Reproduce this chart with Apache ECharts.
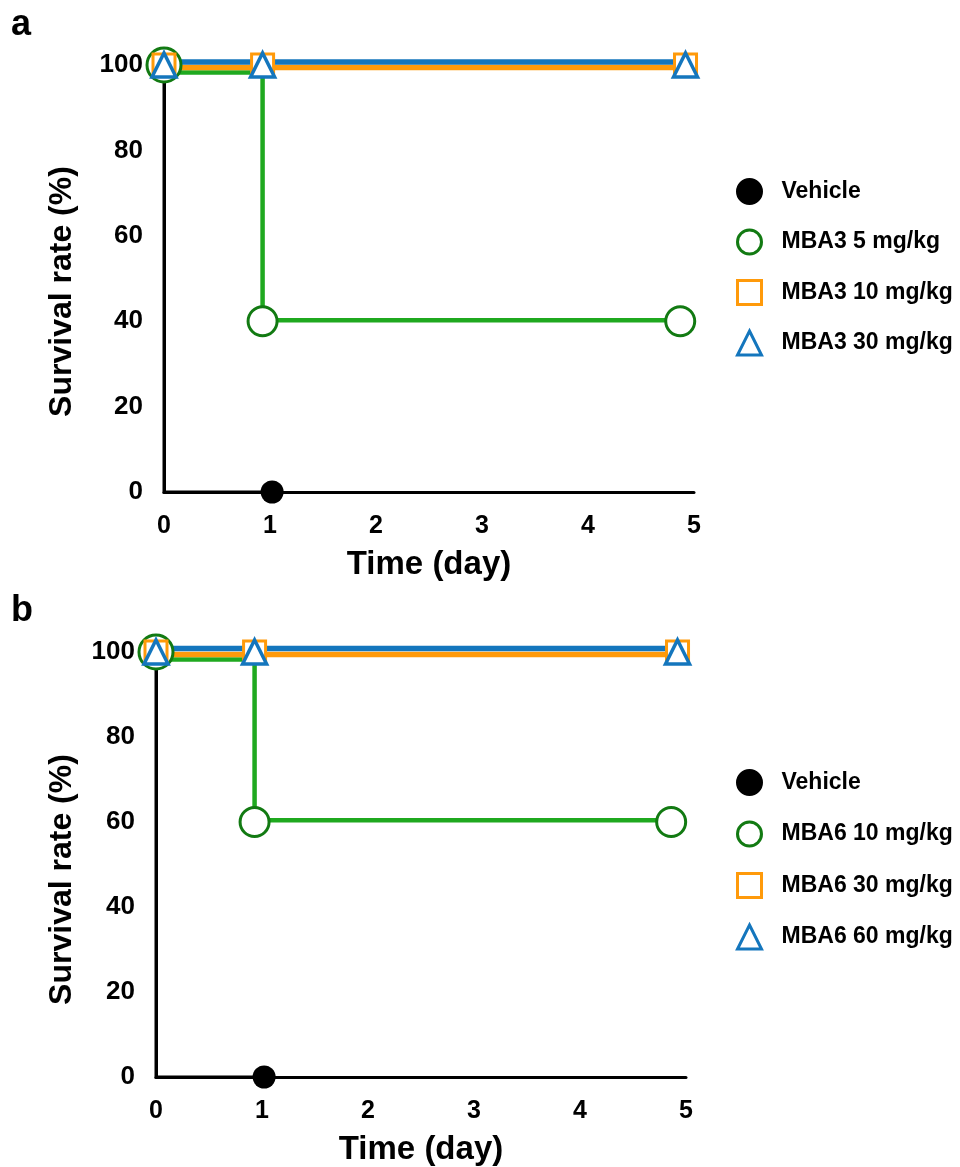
<!DOCTYPE html>
<html>
<head>
<meta charset="utf-8">
<script src="https://cdn.jsdelivr.net/npm/echarts@6/dist/echarts.min.js"></script>
<style>
  html, body { margin: 0; padding: 0; background: #ffffff; }
  #chart { width: 960px; height: 1167px; }
</style>
</head>
<body>
<div id="chart"></div>
<script>
// Axis ticks shared by both panels
const dayTicks = [0, 1, 2, 3, 4, 5];
const survTicks = [0, 20, 40, 60, 80, 100];

// Panel a: MBA3 survival (Kaplan-Meier steps and censor marks)
const a_vehicle_t = [0, 0, 1.02];
const a_vehicle_s = [100, 0, 0];
const a_vehicle_mark_t = [1.02];
const a_vehicle_mark_s = [0];

const a_low_t = [0, 0.93, 0.93, 4.87];
const a_low_s = [100, 100, 40, 40];
const a_low_mark_t = [0, 0.93, 4.87];
const a_low_mark_s = [100, 40, 40];

const a_mid_t = [0, 0.93, 4.92];
const a_mid_s = [100, 100, 100];

const a_high_t = [0, 0.93, 4.92];
const a_high_s = [100, 100, 100];

const a_names = ['Vehicle', 'MBA3 5 mg/kg', 'MBA3 10 mg/kg', 'MBA3 30 mg/kg'];

// Panel b: MBA6 survival
const b_vehicle_t = [0, 0, 1.02];
const b_vehicle_s = [100, 0, 0];
const b_vehicle_mark_t = [1.02];
const b_vehicle_mark_s = [0];

const b_low_t = [0, 0.93, 0.93, 4.86];
const b_low_s = [100, 100, 60, 60];
const b_low_mark_t = [0, 0.93, 4.86];
const b_low_mark_s = [100, 60, 60];

const b_mid_t = [0, 0.93, 4.92];
const b_mid_s = [100, 100, 100];

const b_high_t = [0, 0.93, 4.92];
const b_high_s = [100, 100, 100];

const b_names = ['Vehicle', 'MBA6 10 mg/kg', 'MBA6 30 mg/kg', 'MBA6 60 mg/kg'];

// Colours
const C_BLACK = '#000000';
const C_GREEN_LINE = '#1fa91f';
const C_GREEN_MARK = '#127a12';
const C_ORANGE = '#ff9a0a';
const C_BLUE = '#1476bd';
const FONT = '"Liberation Sans", Arial, Helvetica, sans-serif';

const zip = (t, s) => t.map((v, i) => [v, s[i]]);

// Each panel has a visible main grid plus hidden grids that nudge
// overlapping 100% lines apart so every group stays visible.
function panelGrids(left, top, height, blueDy, orangeDy, greenDy, greenH) {
  return [
    { left: left, top: top, width: 530, height: height },
    { left: left, top: top + blueDy, width: 530, height: height },
    { left: left, top: top + orangeDy, width: 530, height: height },
    { left: left, top: top + greenDy, width: 530, height: greenH }
  ];
}

const grids = [].concat(
  panelGrids(164, 65, 427, -3, 2.5, 7.5, 413),
  panelGrids(156, 652, 426, -3.5, 2.5, 7.5, 402)
);

function xAxisFor(gridIndex, visible) {
  return {
    type: 'value', gridIndex: gridIndex, show: visible,
    min: dayTicks[0], max: dayTicks[dayTicks.length - 1], interval: 1,
    axisLine: { show: true, lineStyle: { color: C_BLACK, width: 3 } },
    axisTick: { show: false },
    splitLine: { show: false },
    axisLabel: { fontSize: 25, fontWeight: 'bold', color: C_BLACK, fontFamily: FONT, margin: 22 },
    name: visible ? 'Time (day)' : '',
    nameLocation: 'middle', nameGap: 56,
    nameTextStyle: { fontSize: 33, fontWeight: 'bold', color: C_BLACK, fontFamily: FONT }
  };
}

function yAxisFor(gridIndex, visible, nameGap, shift) {
  return {
    type: 'value', gridIndex: gridIndex, show: visible,
    min: survTicks[0], max: survTicks[survTicks.length - 1], interval: 20,
    axisLine: { show: true, lineStyle: { color: C_BLACK, width: 3 } },
    axisTick: { show: false },
    splitLine: { show: false },
    axisLabel: { fontSize: 26, fontWeight: 'bold', color: C_BLACK, fontFamily: FONT, margin: 21 },
    name: visible ? 'Survival rate (%)' : '',
    nameLocation: 'middle', nameGap: nameGap,
    nameTextStyle: { fontSize: 32, fontWeight: 'bold', color: C_BLACK, fontFamily: FONT, padding: [0, shift, 0, 0] }
  };
}

const xAxes = [], yAxes = [];
for (let g = 0; g < 8; g++) {
  const main = (g % 4 === 0);
  xAxes.push(xAxisFor(g, main));
  yAxes.push(g < 4 ? yAxisFor(g, main, 86, 26) : yAxisFor(g, main, 78, 30));
}

function stepLine(grid, t, s, color, width, z) {
  return {
    type: 'line', xAxisIndex: grid, yAxisIndex: grid,
    data: zip(t, s), showSymbol: false, symbol: 'none', silent: true,
    lineStyle: { color: color, width: width, cap: 'butt', join: 'miter' },
    z: z, clip: false, animation: false
  };
}

function marks(grid, name, t, s, symbol, size, fill, border, bw, z) {
  return {
    type: 'scatter', name: name, xAxisIndex: grid, yAxisIndex: grid,
    data: zip(t, s), symbol: symbol, symbolSize: size,
    itemStyle: { color: fill, borderColor: border, borderWidth: bw, opacity: 1 },
    z: z, clip: false, animation: false
  };
}

function panelSeries(base, names, veh_t, veh_s, vm_t, vm_s, low_t, low_s, lm_t, lm_s, mid_t, mid_s, high_t, high_s) {
  const circleSizes = lm_t.map((t, i) => (lm_s[i] === 100 ? 34 : 29));
  const lowMarks = marks(base, names[1], [], [], 'circle', 29, '#ffffff', C_GREEN_MARK, 3, 10);
  lowMarks.data = zip(lm_t, lm_s).map((p, i) => ({ value: p, symbolSize: circleSizes[i] }));
  return [
    stepLine(base, veh_t, veh_s, C_BLACK, 3, 3),
    stepLine(base + 3, low_t, low_s, C_GREEN_LINE, 4.5, 4),
    stepLine(base + 2, mid_t, mid_s, C_ORANGE, 5.5, 5),
    stepLine(base + 1, high_t, high_s, C_BLUE, 5.5, 6),
    marks(base, names[0], vm_t, vm_s, 'circle', 23, C_BLACK, C_BLACK, 0, 10),
    lowMarks,
    marks(base, names[2], mid_t, mid_s, 'rect', 22, '#ffffff', C_ORANGE, 3, 11),
    marks(base, names[3], high_t, high_s, 'triangle', 24, '#ffffff', C_BLUE, 3.5, 12)
  ];
}

const series = [].concat(
  panelSeries(0, a_names, a_vehicle_t, a_vehicle_s, a_vehicle_mark_t, a_vehicle_mark_s,
    a_low_t, a_low_s, a_low_mark_t, a_low_mark_s, a_mid_t, a_mid_s, a_high_t, a_high_s),
  panelSeries(4, b_names, b_vehicle_t, b_vehicle_s, b_vehicle_mark_t, b_vehicle_mark_s,
    b_low_t, b_low_s, b_low_mark_t, b_low_mark_s, b_mid_t, b_mid_s, b_high_t, b_high_s)
);

function legendFor(top, gap, names) {
  return {
    orient: 'vertical', left: 731, top: top,
    itemWidth: 24, itemHeight: 24, itemGap: gap,
    selectedMode: false,
    data: names,
    itemStyle: { borderWidth: 3 },
    textStyle: { fontSize: 23, fontWeight: 'bold', color: C_BLACK, fontFamily: FONT, padding: [0, 0, 0, 15] }
  };
}

const chart = echarts.init(document.getElementById('chart'), null, { renderer: 'canvas' });
chart.setOption({
  backgroundColor: '#ffffff',
  animation: false,
  grid: grids,
  xAxis: xAxes,
  yAxis: yAxes,
  legend: [legendFor(173, 23.5, a_names), legendFor(764, 24.5, b_names)],
  graphic: [
    { type: 'text', left: 11, top: 7, style: { text: 'a', fontSize: 36, fontWeight: 'bold', fill: C_BLACK, fontFamily: FONT } },
    { type: 'text', left: 11, top: 593, style: { text: 'b', fontSize: 36, fontWeight: 'bold', fill: C_BLACK, fontFamily: FONT } }
  ],
  series: series
});
</script>
</body>
</html>
